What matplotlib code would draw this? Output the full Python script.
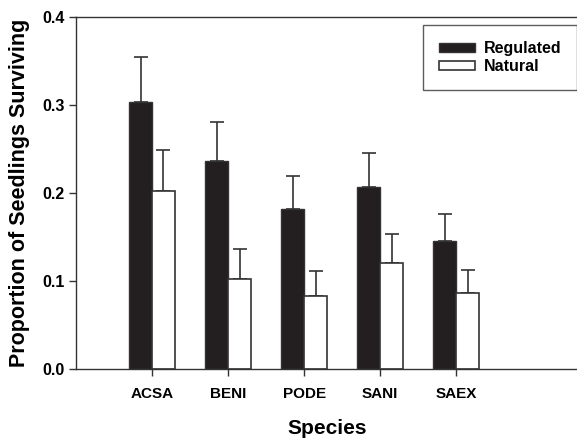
import matplotlib
matplotlib.use("Agg")
import matplotlib.pyplot as plt
import numpy as np

plt.rcParams["font.family"] = "Liberation Sans"
plt.rcParams["font.weight"] = "bold"

species = ["ACSA", "BENI", "PODE", "SANI", "SAEX"]
regulated = [0.303, 0.236, 0.182, 0.207, 0.145]
regulated_err = [0.051, 0.045, 0.037, 0.038, 0.031]
natural = [0.202, 0.102, 0.083, 0.120, 0.086]
natural_err = [0.047, 0.034, 0.028, 0.033, 0.027]

fig = plt.figure(figsize=(5.77, 4.38), dpi=100)
ax = fig.add_axes([0.1317, 0.1575, 0.87, 0.804])

x = np.arange(1, len(species) + 1)
w = 0.3
ax.bar(x - w / 2, regulated, w, color="#231f20", edgecolor="#333333",
       linewidth=1, label="Regulated", zorder=2)
ax.bar(x + w / 2, natural, w, color="white", edgecolor="#333333",
       linewidth=1.2, label="Natural", zorder=2)
ax.errorbar(x - w / 2, regulated, yerr=[np.zeros(5), regulated_err], fmt="none",
            ecolor="#333333", elinewidth=1.2, capsize=5, capthick=1.2, zorder=1)
ax.errorbar(x + w / 2, natural, yerr=[np.zeros(5), natural_err], fmt="none",
            ecolor="#333333", elinewidth=1.2, capsize=5, capthick=1.2, zorder=1)

ax.set_xlim(0, 6.6)
ax.set_ylim(0, 0.4)
ax.set_xticks(x)
ax.set_xticklabels(species, fontsize=11, fontweight="bold")
ax.set_yticks([0.0, 0.1, 0.2, 0.3, 0.4])
ax.set_yticklabels(["0.0", "0.1", "0.2", "0.3", "0.4"], fontsize=11.5, fontweight="bold")
ax.tick_params(axis="both", direction="out", length=5, width=1, color="#333333")
ax.tick_params(axis="x", pad=8)
ax.tick_params(axis="y", pad=3)
ax.spines["right"].set_visible(False)
for s in ["left", "bottom", "top"]:
    ax.spines[s].set_color("#333333")
    ax.spines[s].set_linewidth(1)

ax.set_xlabel("Species", fontsize=15, fontweight="bold", labelpad=13)
ax.set_ylabel("Proportion of Seedlings Surviving", fontsize=15.5, fontweight="bold", labelpad=9)

leg = ax.legend(loc="upper right", bbox_to_anchor=(0.998, 0.976),
                frameon=True, fancybox=False, edgecolor="#333333",
                handlelength=2.3, handleheight=0.5, handletextpad=0.5,
                borderpad=1.0, labelspacing=0.2, borderaxespad=0,
                prop={"weight": "bold", "size": 11.5})
leg.get_frame().set_linewidth(1)

fig.savefig("out.png", dpi=100)
